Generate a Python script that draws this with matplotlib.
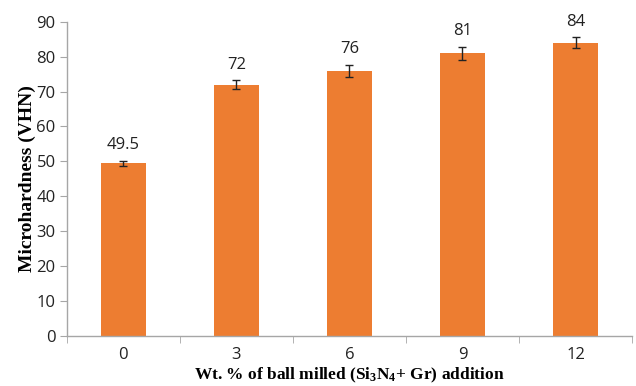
import matplotlib
matplotlib.use('Agg')
import matplotlib.pyplot as plt
import numpy as np

# Microhardness vs. reinforcement content
wt_pct = ['0', '3', '6', '9', '12']
hardness = [49.5, 72, 76, 81, 84]
errors = [0.7, 1.2, 1.7, 1.9, 1.6]

plt.rcParams['mathtext.fontset'] = 'custom'
plt.rcParams['mathtext.rm'] = 'Liberation Serif:bold'
plt.rcParams['mathtext.it'] = 'Liberation Serif:italic'
plt.rcParams['mathtext.bf'] = 'Liberation Serif:bold'

fig = plt.figure(figsize=(6.36, 3.86), dpi=100)
ax = fig.add_axes([0.1049, 0.1303, 0.889, 0.813])

x = np.arange(len(wt_pct))
ax.bar(x, hardness, width=0.40, color='#ED7D31', zorder=2)
ax.errorbar(x, hardness, yerr=errors, fmt='none', ecolor='#222222',
            elinewidth=1.0, capsize=3, capthick=1.0, zorder=3)

for xi, h, e in zip(x, hardness, errors):
    ax.text(xi, h + e + 2.2, f'{h:g}', ha='center', va='bottom',
            fontsize=12, family='Open Sans', color='#222222')

ax.set_xlim(-0.5, len(wt_pct) - 0.5)
ax.set_ylim(0, 90)
ax.set_yticks(range(0, 91, 10))
ax.set_xticks(x)
ax.set_xticklabels(wt_pct)
ax.set_xticks(np.arange(-0.5, len(wt_pct), 1), minor=True)

for lab in ax.get_xticklabels() + ax.get_yticklabels():
    lab.set_family('Open Sans')
    lab.set_fontsize(12)
    lab.set_color('#222222')

ax.tick_params(axis='x', which='major', length=0, pad=8)
ax.tick_params(axis='x', which='minor', length=5, color='#A6A6A6')
ax.tick_params(axis='y', length=5, color='#A6A6A6', pad=3)

for side in ['top', 'right']:
    ax.spines[side].set_visible(False)
for side in ['left', 'bottom']:
    ax.spines[side].set_color('#A6A6A6')
    ax.spines[side].set_linewidth(1.0)

ax.set_ylabel('Microhardness (VHN)', family='Liberation Serif',
              fontweight='bold', fontsize=14, labelpad=0)
ax.set_xlabel(r'Wt. % of ball milled (Si$_{3}$N$_{4}$+ Gr) addition',
              family='Liberation Serif', fontweight='bold', fontsize=12.5,
              labelpad=2)

plt.savefig('out.png', dpi=100)
